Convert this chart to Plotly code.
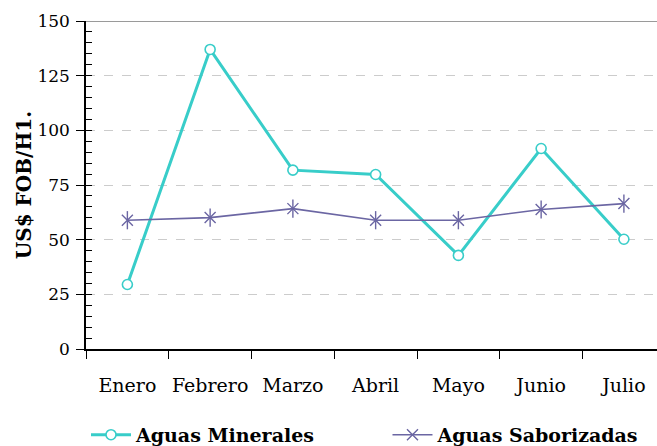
import plotly.graph_objects as go

months = ["Enero", "Febrero", "Marzo", "Abril", "Mayo", "Junio", "Julio"]
minerales = [29.5, 137, 81.8, 79.8, 42.8, 91.7, 50.2]
saborizadas = [58.9, 60.1, 64.2, 58.9, 58.9, 63.8, 66.5]
y_ticks = [0, 25, 50, 75, 100, 125, 150]

teal = "#38cdc9"
purple = "#6b66a3"
font_family = "DejaVu Serif"

fig = go.Figure()
fig.add_trace(go.Scatter(
    x=months, y=minerales, name="Aguas Minerales", mode="lines+markers",
    line=dict(color=teal, width=3), legend="legend",
    marker=dict(symbol="circle", size=10, color="white", line=dict(color=teal, width=1.6)),
))
fig.add_trace(go.Scatter(
    x=months, y=saborizadas, name="Aguas Saborizadas", mode="lines+markers",
    line=dict(color=purple, width=1.6), legendgroup="sab", legend="legend2",
    marker=dict(symbol="x-thin-open", size=11, color=purple, line=dict(color=purple, width=1.4)),
))
fig.add_trace(go.Scatter(
    x=months, y=saborizadas, mode="markers", showlegend=False, legendgroup="sab",
    marker=dict(symbol="line-ns-open", size=13, color=purple, line=dict(color=purple, width=1.4)),
    hoverinfo="skip",
))

fig.add_shape(type="line", xref="paper", yref="y", x0=0, x1=1, y0=150, y1=150,
              line=dict(color="#9a9a9a", width=2))

legend_font = dict(family=font_family, size=19, color="black", weight="bold")
fig.update_layout(
    width=657, height=446,
    margin=dict(l=86, r=0, t=21, b=97),
    paper_bgcolor="white", plot_bgcolor="white",
    font=dict(family=font_family, size=19, color="black"),
    showlegend=True,
    legend=dict(orientation="h", x=0.0, xanchor="left", yref="container", y=0.025, yanchor="middle",
                font=legend_font, itemwidth=40, bgcolor="rgba(0,0,0,0)"),
    legend2=dict(orientation="h", x=0.528, xanchor="left", yref="container", y=0.025, yanchor="middle",
                 font=legend_font, itemwidth=40, bgcolor="rgba(0,0,0,0)"),
    xaxis=dict(
        type="category", categoryorder="array", categoryarray=months,
        range=[-0.5, 6.4], tickson="boundaries", ticks="outside", ticklen=8,
        tickcolor="black", tickwidth=1.2, tickangle=0, automargin=False,
        showline=True, linecolor="black", linewidth=1.5, showgrid=False, zeroline=False,
        ticklabelstandoff=18, tickfont=dict(family=font_family, size=19),
    ),
    yaxis=dict(
        range=[0, 150], tickvals=y_ticks, ticks="outside", ticklen=8,
        tickcolor="black", tickwidth=1.2, automargin=False,
        showline=True, linecolor="black", linewidth=1.5, zeroline=False,
        showgrid=True, gridcolor="#cccccc", griddash="dash", gridwidth=1,
        minor=dict(dtick=5, ticks="inside", ticklen=6, tickcolor="black", tickwidth=1, showgrid=False),
        ticklabelstandoff=3,
        tickfont=dict(family=font_family, size=17),
        title=dict(text="US$ FOB/H1.", font=dict(family=font_family, size=20, weight="bold"), standoff=0),
    ),
)

fig.write_html("out.html", config={"displayModeBar": False},
               post_script="document.body.style.margin='0';document.body.style.overflow='hidden';")
